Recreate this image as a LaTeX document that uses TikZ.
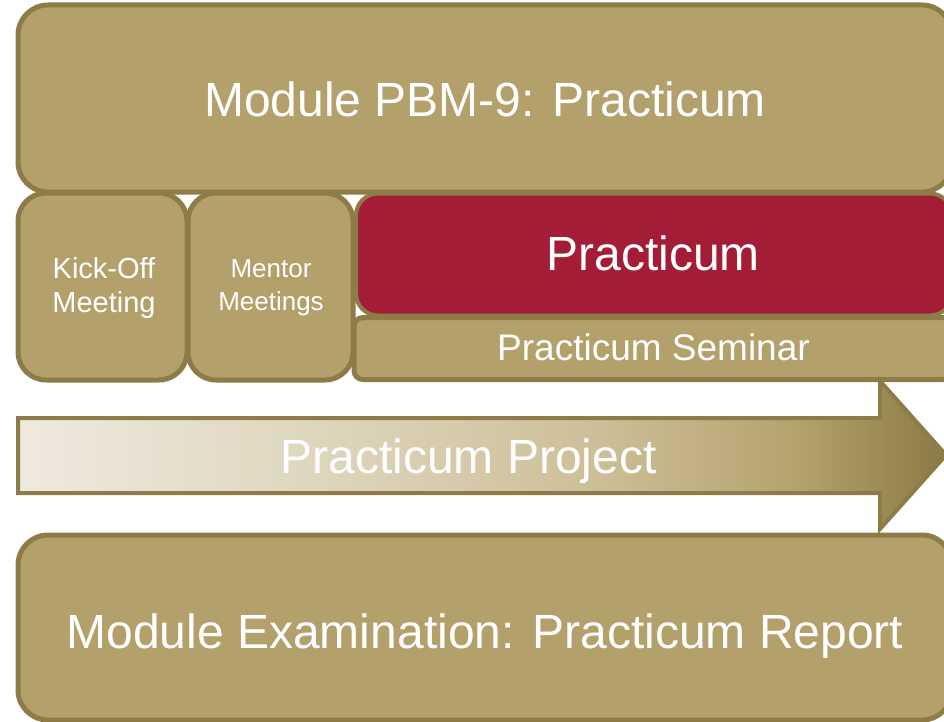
\documentclass[tikz,border=0pt]{standalone}
\usepackage{fontspec}
\setmainfont{Liberation Sans}
\definecolor{tan}{HTML}{B4A06A}
\definecolor{tanborder}{HTML}{8E7C48}
\definecolor{crimson}{HTML}{A31D37}
\definecolor{arrowlight}{RGB}{239,234,224}
\definecolor{arrowtwo}{RGB}{224,215,192}
\definecolor{arrowthree}{RGB}{205,191,152}
\definecolor{arrowfour}{RGB}{180,162,110}
\definecolor{arrowdark}{RGB}{140,122,70}
\pgfdeclarehorizontalshading{arrowshade}{100bp}{color(0bp)=(arrowlight); color(25bp)=(arrowlight); color(40bp)=(arrowtwo); color(56bp)=(arrowthree); color(67bp)=(arrowfour); color(75bp)=(arrowdark); color(100bp)=(arrowdark)}
\tikzset{
  tanbox/.style={draw=tanborder, line width=5pt, fill=tan, rectangle, rounded corners=30pt, inner sep=0pt},
  redbox/.style={draw=tanborder, line width=4pt, fill=crimson, rectangle, rounded corners=22pt, inner sep=0pt},
  smallbox/.style={draw=tanborder, line width=5pt, fill=tan, rectangle, rounded corners=9pt, inner sep=0pt},
  label/.style={text=white, align=center, inner sep=0pt},
  bigfont/.style={font=\fontsize{48}{52}\selectfont},
}
\begin{document}
\begin{tikzpicture}[x=1pt,y=-1pt]
\useasboundingbox (0,0) rectangle (944,722);
\clip (0,0) rectangle (944,722);
% top module box
\node[tanbox, minimum width=934pt, minimum height=187pt] (module) at (485,98.5) {};
\node[label, bigfont, anchor=base] (moduletext) at (485,117) {Module PBM-9: Practicum};
% kick-off and mentor
\node[tanbox, minimum width=169pt, minimum height=187pt, rounded corners=28pt] (kick) at (102.5,286.5) {};
\node[label, font=\fontsize{29}{34}\selectfont] (kicktext) at (104,288.5) {Kick-Off\\Meeting};
\node[tanbox, minimum width=165pt, minimum height=187pt, rounded corners=28pt] (mentor) at (270.5,286.5) {};
\node[label, font=\fontsize{26}{33}\selectfont] (mentortext) at (271,287.5) {Mentor\\Meetings};
% seminar
\node[smallbox, minimum width=598pt, minimum height=62pt] (seminar) at (653,348.5) {};
\node[label, font=\fontsize{37}{40}\selectfont, anchor=base] (seminartext) at (653.5,360) {Practicum Seminar};
% red practicum
\node[redbox, minimum width=596pt, minimum height=122pt] (practicum) at (654,254.5) {};
\node[label, bigfont, anchor=base] (practicumtext) at (653,270) {Practicum};
% arrow
\coordinate (a1) at (18,418);
\coordinate (a2) at (880,418);
\coordinate (a3) at (880,381);
\coordinate (a4) at (946,455);
\coordinate (a5) at (880,529);
\coordinate (a6) at (880,493);
\coordinate (a7) at (18,493);
\path[shading=arrowshade, draw=tanborder, line width=4pt, line join=miter]
  (a1) -- (a2) -- (a3) -- (a4) -- (a5) -- (a6) -- (a7) -- cycle;
\node[label, bigfont, anchor=base] (project) at (468.5,473) {Practicum Project};
% bottom exam box
\node[tanbox, minimum width=934pt, minimum height=185pt] (exam) at (485,627.5) {};
\node[label, bigfont, anchor=base] (examtext) at (485,648) {Module Examination: Practicum Report};
\end{tikzpicture}
\end{document}
